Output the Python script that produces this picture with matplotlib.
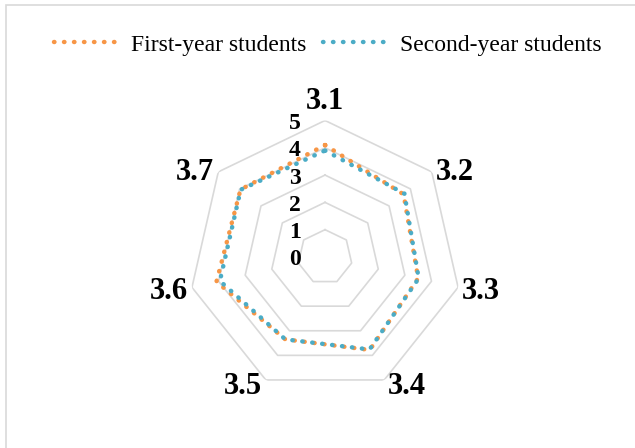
import numpy as np
import matplotlib
matplotlib.use("Agg")
import matplotlib.pyplot as plt
from matplotlib.patches import Rectangle
from matplotlib.transforms import offset_copy

# data
categorias = ["3.1", "3.2", "3.3", "3.4", "3.5", "3.6", "3.7"]
primeiro_ano = [4.1, 3.68, 3.5, 3.78, 3.35, 4.08, 3.96]
segundo_ano = [3.9, 3.72, 3.52, 3.76, 3.35, 3.95, 3.95]
niveis = [0, 1, 2, 3, 4, 5]

cor_laranja = "#F79646"
cor_azul = "#4BACC6"
cor_grade = "#D9D9D9"

plt.rcParams["font.family"] = ["Liberation Serif", "DejaVu Serif"]

fig = plt.figure(figsize=(6.35, 4.48), dpi=100)

# moldura do grafico (estilo Excel)
fig.patches.append(Rectangle((6 / 635, -0.1), 1.2, 1.1 - 5 / 448,
                             transform=fig.transFigure, fill=False,
                             edgecolor=cor_grade, linewidth=1.2))

ax = fig.add_axes([0.2969, 0.1217, 0.4299, 0.6094], projection="polar")
ax.set_theta_zero_location("N")
ax.set_theta_direction(-1)
ax.set_ylim(0, 5)
ax.grid(False)
ax.spines["polar"].set_visible(False)
ax.set_xticks([])
ax.set_yticks([])
ax.patch.set_alpha(0)

n = len(categorias)
angulos = np.linspace(0, 2 * np.pi, n, endpoint=False)
ang_fech = np.append(angulos, angulos[0])

# aneis da grade
for nivel in niveis[1:]:
    ax.plot(ang_fech, [nivel] * (n + 1), color=cor_grade, linewidth=1.2, zorder=1)

estilo = dict(linewidth=3.2, linestyle=(0, (0.1, 2.15)), dash_capstyle="round", zorder=3)
ax.plot(ang_fech, primeiro_ano + primeiro_ano[:1], color=cor_laranja,
        label="First-year students", **estilo)
ax.plot(ang_fech, segundo_ano + segundo_ano[:1], color=cor_azul,
        label="Second-year students", **estilo)

# rotulos das categorias, ancorados no vertice externo (como no Excel)
rmax = niveis[-1]
for ang, cat in zip(angulos, categorias):
    s, c = np.sin(ang), np.cos(ang)
    if abs(s) < 0.1:
        ha, va, off = "center", "bottom", (0, 4)
    else:
        ha = "left" if s > 0 else "right"
        va, off = "center", (4 if s > 0 else -4, 4 * c - 3)
    ax.annotate(cat, xy=(ang, rmax), xytext=off, textcoords="offset pixels",
                ha=ha, va=va, fontsize=22, fontweight="bold", annotation_clip=False)

# rotulos do eixo radial
trans = offset_copy(ax.transData, fig=fig, x=-30, y=-3, units="dots")
for nivel in niveis:
    ax.text(0, nivel, str(nivel), transform=trans, ha="center", va="center",
            fontsize=17, fontweight="bold", clip_on=False)

fig.legend(loc="center", bbox_to_anchor=(328 / 635, 1 - 45 / 448), ncol=2,
           frameon=False, fontsize=17, handlelength=2.9, handletextpad=0.35,
           columnspacing=0.7)

fig.savefig("out.png", dpi=100)
